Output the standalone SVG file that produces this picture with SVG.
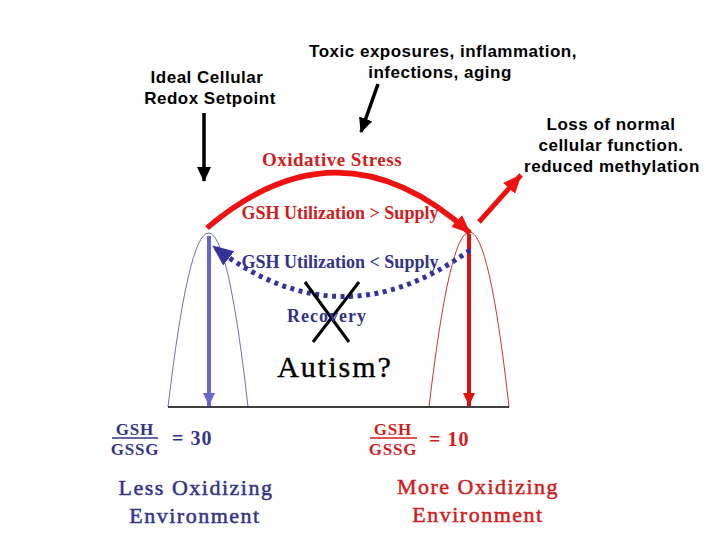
<svg xmlns="http://www.w3.org/2000/svg" width="720" height="540" viewBox="0 0 720 540">
<defs>
<style>
.sans{font-family:"Liberation Sans",Arial,sans-serif;font-weight:bold;font-size:17px;letter-spacing:0.5px;fill:#000;text-anchor:middle}
.serif{font-family:"Liberation Serif","Times New Roman",serif;text-anchor:middle}
.red{fill:#d01c1c}
.navy{fill:#333388}
.b{font-weight:bold}
.env{font-size:22px;letter-spacing:1.5px;stroke-width:0.5px}
.env.red{stroke:#d01c1c}
.env.navy{stroke:#333388}
.frac{font-size:17px;font-weight:bold;letter-spacing:0.8px}
.eq{font-size:20px;font-weight:bold;letter-spacing:1px;text-anchor:start}
</style>
<marker id="ablack" markerUnits="userSpaceOnUse" markerWidth="16" markerHeight="16" viewBox="0 0 16 16" refX="14" refY="8" orient="auto"><path d="M0,1 L15,8 L0,15 Z" fill="#000"/></marker>
<marker id="ared" markerUnits="userSpaceOnUse" markerWidth="20" markerHeight="20" viewBox="0 0 20 20" refX="18" refY="10" orient="auto"><path d="M0,2 L19,10 L0,18 Z" fill="#ee1111"/></marker>
<marker id="ared2" markerUnits="userSpaceOnUse" markerWidth="14" markerHeight="14" viewBox="0 0 14 14" refX="13" refY="7" orient="auto"><path d="M0,1 L13,7 L0,13 Z" fill="#dd1111"/></marker>
<marker id="ablue" markerUnits="userSpaceOnUse" markerWidth="14" markerHeight="14" viewBox="0 0 14 14" refX="13" refY="7" orient="auto"><path d="M0,1 L13,7 L0,13 Z" fill="#6666cc"/></marker>
<marker id="anavy" markerUnits="userSpaceOnUse" markerWidth="22" markerHeight="22" viewBox="0 0 22 22" refX="20" refY="11" orient="auto"><path d="M0,2 L21,11 L0,20 Z" fill="#333399"/></marker>
</defs>
<rect width="720" height="540" fill="#fff"/>

<g id="curves">
<path d="M168,407 Q209,59 248,407" fill="none" stroke="#7070aa" stroke-width="1"/>
<path d="M429,407 Q470,57 509,407" fill="none" stroke="#cc3333" stroke-width="1"/>
<line x1="168" y1="407" x2="509" y2="407" stroke="#000" stroke-width="1.5"/>
</g>

<g id="connectors">
<line x1="204" y1="113" x2="204" y2="181" stroke="#000" stroke-width="3.5" marker-end="url(#ablack)"/>
<line x1="378" y1="84" x2="361" y2="132" stroke="#000" stroke-width="3.5" marker-end="url(#ablack)"/>
<line x1="209" y1="236" x2="209" y2="406" stroke="#6666cc" stroke-width="4" marker-end="url(#ablue)"/>
<line x1="469" y1="234" x2="469" y2="406" stroke="#dd1111" stroke-width="4" marker-end="url(#ared2)"/>
<path d="M207,228 Q340,115 470,233" fill="none" stroke="#ee1111" stroke-width="5.5" marker-end="url(#ared)"/>
<line x1="479" y1="222" x2="521" y2="175" stroke="#ee1111" stroke-width="5" marker-end="url(#ared)"/>
<path d="M470,250 Q340,345 213,246" fill="none" stroke="#333399" stroke-width="5" stroke-dasharray="4 4.5" marker-end="url(#anavy)"/>
<line x1="305" y1="282" x2="349" y2="342" stroke="#000" stroke-width="3"/>
<line x1="359" y1="282" x2="313" y2="342" stroke="#000" stroke-width="3"/>
</g>

<g id="toxic">
<text class="sans" x="443" y="57">Toxic exposures, inflammation,</text>
<text class="sans" x="440" y="78">infections, aging</text>
</g>
<g id="ideal">
<text class="sans" x="207" y="83">Ideal Cellular</text>
<text class="sans" x="210" y="104">Redox Setpoint</text>
</g>
<g id="loss">
<text class="sans" x="611" y="130">Loss of normal</text>
<text class="sans" x="611" y="151">cellular function.</text>
<text class="sans" x="612" y="172">reduced methylation</text>
</g>
<g id="oxstress">
<text class="serif red b" x="332" y="166" font-size="19" letter-spacing="0.5">Oxidative Stress</text>
</g>
<g id="util-gt">
<text class="serif red b" x="340" y="219" font-size="18">GSH Utilization &gt; Supply</text>
</g>
<g id="util-lt">
<text class="serif navy b" x="340" y="268" font-size="18">GSH Utilization &lt; Supply</text>
</g>
<g id="recovery">
<text class="serif navy b" x="327" y="322" font-size="18" letter-spacing="1">Recovery</text>
</g>
<g id="autism">
<text class="serif" x="335" y="377" font-size="30" letter-spacing="2" fill="#000" stroke="#000" stroke-width="0.4">Autism?</text>
</g>
<g id="ratio-left">
<text class="serif navy frac" x="135" y="435">GSH</text>
<line x1="112" y1="438" x2="158" y2="438" stroke="#333388" stroke-width="1.5"/>
<text class="serif navy frac" x="135" y="455">GSSG</text>
<text class="serif navy eq" x="172" y="445">= 30</text>
</g>
<g id="ratio-right">
<text class="serif red frac" x="393" y="435">GSH</text>
<line x1="370" y1="438" x2="417" y2="438" stroke="#d01c1c" stroke-width="1.5"/>
<text class="serif red frac" x="393" y="455">GSSG</text>
<text class="serif red eq" x="429" y="446">= 10</text>
</g>
<g id="less">
<text class="serif navy env" x="196" y="495">Less Oxidizing</text>
<text class="serif navy env" x="195" y="523">Environment</text>
</g>
<g id="more">
<text class="serif red env" x="478" y="494">More Oxidizing</text>
<text class="serif red env" x="478" y="522">Environment</text>
</g>
</svg>
